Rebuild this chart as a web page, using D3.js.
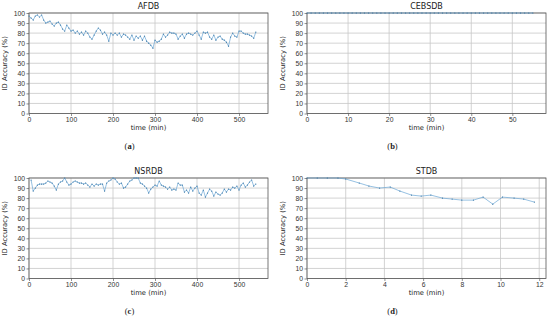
<!DOCTYPE html>
<html>
<head>
<meta charset="utf-8">
<script src="https://cdn.jsdelivr.net/npm/d3@7"></script>
<style>
  body { margin: 0; background: #fff; }
  svg { display: block; font-family: "DejaVu Sans", sans-serif; }
  .tick text { fill: #333; font-size: 6.8px; }
  .caption { font-family: "Liberation Serif", serif; font-size: 8.5px; fill: #222; }
</style>
</head>
<body>
<div id="chart"></div>
<script>
// AFDB: one value every 5 min
const afdbStep = 5;
const afdbValues = [97, 95, 93, 97, 98, 96, 98, 93, 90, 91, 92, 89, 87, 90, 91, 88, 84, 82, 88, 85,
    82, 83, 80, 82, 79, 81, 78, 82, 80, 76, 74, 78, 82, 85, 83, 79, 81, 78, 72, 80,
    78, 80, 78, 80, 76, 79, 78, 76, 74, 78, 73, 77, 75, 77, 73, 77, 72, 70, 68, 65,
    73, 71, 72, 74, 79, 76, 78, 81, 80, 80, 79, 74, 77, 79, 75, 79, 80, 79, 78, 80,
    82, 78, 74, 81, 80, 81, 76, 74, 78, 73, 76, 77, 74, 73, 71, 67, 76, 80, 77, 76,
    82, 82, 80, 79, 79, 78, 77, 75, 81];

// CEBSDB: one value every minute
const cebsdbStep = 1;
const cebsdbValues = [100, 100, 100, 100, 100, 100, 100, 100, 100, 100, 100, 100, 100, 100,
    100, 100, 100, 100, 100, 100, 100, 100, 100, 100, 100, 100, 100, 100, 100, 100, 100, 100,
    100, 100, 100, 100, 100, 100, 100, 100, 100, 100, 100, 100, 100, 100, 100, 100, 100, 100,
    100, 100, 100, 100, 100, 100];

// NSRDB: one value every 5 min, first at 5
const nsrdbStep = 5;
const nsrdbValues = [98, 87, 90, 93, 94, 94, 94, 95, 97, 96, 95, 92, 88, 94, 96, 97, 100, 96, 93, 94,
    96, 97, 96, 95, 95, 94, 95, 93, 91, 94, 92, 94, 93, 94, 94, 87, 95, 97, 98, 100,
    99, 96, 94, 95, 90, 91, 94, 97, 98, 100, 100, 100, 95, 94, 92, 90, 85, 89, 91, 93,
    92, 97, 93, 92, 91, 89, 91, 88, 89, 88, 95, 93, 93, 86, 88, 85, 91, 87, 90, 92,
    85, 83, 88, 81, 85, 89, 87, 82, 86, 84, 83, 85, 89, 86, 89, 88, 91, 90, 92, 88,
    93, 95, 91, 93, 96, 98, 92, 94];

// STDB
const stdbTimes = [0, 0.53, 1.05, 1.6, 2.0, 2.7, 3.2, 3.75, 4.3, 4.8, 5.4, 5.9, 6.4, 7.0, 7.5,
    8.0, 8.6, 9.1, 9.6, 10.1, 10.7, 11.2, 11.75];
const stdbValues = [100, 100, 100, 100, 99, 95, 92, 90, 91, 87, 83, 82, 83, 80, 79,
    78, 78, 81, 74, 81, 80, 79, 76];

const yTicks = [0, 10, 20, 30, 40, 50, 60, 70, 80, 90, 100];

const panels = [
    { title: 'AFDB', caption: 'a', x: 29, y: 13, capX: 129.5, xMax: 569, xTicks: [0, 100, 200, 300, 400, 500],
      points: afdbValues.map((v, i) => [i * afdbStep, v]) },
    { title: 'CEBSDB', caption: 'b', x: 307, y: 13, capX: 392.5, xMax: 58.2, xTicks: [0, 10, 20, 30, 40, 50],
      points: cebsdbValues.map((v, i) => [i * cebsdbStep, v]) },
    { title: 'NSRDB', caption: 'c', x: 29, y: 178, capX: 129.5, xMax: 569, xTicks: [0, 100, 200, 300, 400, 500],
      points: nsrdbValues.map((v, i) => [(i + 1) * nsrdbStep, v]) },
    { title: 'STDB', caption: 'd', x: 307, y: 178, capX: 392.5, xMax: 12.35, xTicks: [0, 2, 4, 6, 8, 10, 12],
      points: stdbValues.map((v, i) => [stdbTimes[i], v]) }
];

const W = 550, H = 322;
const pw = 239, ph = 100.5;

const svg = d3.select('#chart').append('svg').attr('width', W).attr('height', H);

panels.forEach(p => {
    const g = svg.append('g').attr('transform', `translate(${p.x}, ${p.y})`);
    const x = d3.scaleLinear().domain([0, p.xMax]).range([0, pw]);
    const y = d3.scaleLinear().domain([0, 100]).range([ph, 0]);

    // grid
    g.append('g').selectAll('line').data(p.xTicks).enter().append('line')
        .attr('x1', d => x(d)).attr('x2', d => x(d)).attr('y1', 0).attr('y2', ph)
        .attr('stroke', '#c8c8c8').attr('stroke-width', 0.8);
    g.append('g').selectAll('line').data(yTicks).enter().append('line')
        .attr('x1', 0).attr('x2', pw).attr('y1', d => y(d)).attr('y2', d => y(d))
        .attr('stroke', '#c8c8c8').attr('stroke-width', 0.8);

    const xa = g.append('g')
        .attr('transform', `translate(0, ${ph})`)
        .call(d3.axisBottom(x).tickValues(p.xTicks).tickSize(2.5).tickPadding(1.5));
    const ya = g.append('g')
        .call(d3.axisLeft(y).tickValues(yTicks).tickSize(2.5).tickPadding(1.5));
    [xa, ya].forEach(a => {
        a.select('.domain').remove();
        a.selectAll('.tick line').attr('stroke', '#444').attr('stroke-width', 0.6);
    });

    // frame
    g.append('rect').attr('width', pw).attr('height', ph)
        .attr('fill', 'none').attr('stroke', '#555').attr('stroke-width', 0.8);

    const line = d3.line().x(d => x(d[0])).y(d => y(d[1]));
    g.append('path').datum(p.points).attr('d', line)
        .attr('fill', 'none').attr('stroke', '#6aa6d6').attr('stroke-width', 0.7);
    g.append('g').selectAll('circle').data(p.points).enter().append('circle')
        .attr('cx', d => x(d[0])).attr('cy', d => y(d[1])).attr('r', 0.6)
        .attr('fill', '#2f6f9f');

    g.append('text').attr('x', pw / 2).attr('y', -4).attr('text-anchor', 'middle')
        .attr('font-size', 8).attr('fill', '#222').text(p.title);
    g.append('text').attr('x', pw / 2).attr('y', ph + 16).attr('text-anchor', 'middle')
        .attr('font-size', 6.8).attr('fill', '#222').text('time (min)');
    g.append('text').attr('transform', `translate(-22, ${ph / 2}) rotate(-90)`)
        .attr('text-anchor', 'middle').attr('font-size', 6.8).attr('fill', '#222')
        .text('ID Accuracy (%)');

    const cap = g.append('text').attr('class', 'caption')
        .attr('x', p.capX - p.x).attr('y', ph + 35).attr('text-anchor', 'middle');
    cap.append('tspan').text('(');
    cap.append('tspan').attr('font-weight', 'bold').text(p.caption);
    cap.append('tspan').text(')');
});
</script>
</body>
</html>
